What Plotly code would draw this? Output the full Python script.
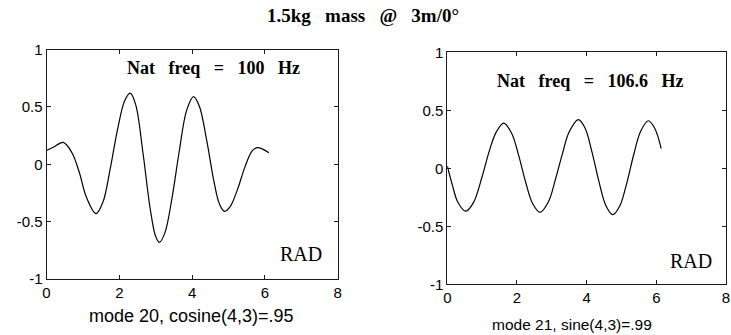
import plotly.graph_objects as go

# ---- data ----
x_left = [0.00, 0.20, 0.46, 0.70, 0.90, 1.10, 1.36, 1.55, 1.75, 1.95, 2.15, 2.30,
          2.45, 2.65, 2.85, 3.00, 3.10, 3.25, 3.45, 3.65, 3.85, 4.04, 4.20, 4.40,
          4.60, 4.75, 4.89, 5.05, 5.25, 5.45, 5.65, 5.79, 5.95, 6.11]
y_left = [0.12, 0.15, 0.19, 0.10, -0.07, -0.29, -0.43, -0.33, -0.04, 0.30, 0.555, 0.62,
          0.52, 0.10, -0.39, -0.63, -0.68, -0.60, -0.29, 0.12, 0.47, 0.59, 0.505, 0.21,
          -0.15, -0.345, -0.41, -0.367, -0.217, -0.025, 0.116, 0.145, 0.13, 0.10]

x_right = [0.00, 0.15, 0.30, 0.53, 0.75, 1.00, 1.20, 1.40, 1.62, 1.85, 2.05, 2.25,
           2.45, 2.66, 2.90, 3.10, 3.30, 3.50, 3.76, 3.95, 4.15, 4.35, 4.55, 4.75,
           4.95, 5.15, 5.35, 5.55, 5.77, 5.95, 6.14]
y_right = [0.02, -0.15, -0.29, -0.37, -0.296, -0.071, 0.144, 0.31, 0.39, 0.30, 0.109, -0.12,
           -0.305, -0.38, -0.29, -0.10, 0.12, 0.315, 0.42, 0.35, 0.144, -0.11, -0.32, -0.40,
           -0.325, -0.13, 0.117, 0.32, 0.41, 0.347, 0.17]

x_ticks = [0, 2, 4, 6, 8]
y_ticks = [-1, -0.5, 0, 0.5, 1]
y_tick_text = ["-1", "-0.5", "0", "0.5", "1"]

SP = "\u00a0\u00a0\u00a0"
title_text = SP.join(["1.5kg", "mass", "@", "3m/0°"])
freq_left = SP.join(["Nat", "freq", "=", "100", "Hz"])
freq_right = SP.join(["Nat", "freq", "=", "106.6", "Hz"])
xtitle_left = "mode 20, cosine(4,3)=.95"
xtitle_right = "mode 21, sine(4,3)=.99"

W, H = 731, 335
LINE = "#1a1a1a"

fig = go.Figure()
fig.add_trace(go.Scatter(x=x_left, y=y_left, mode="lines", line=dict(color="black", width=1.2, shape="spline"),
                         xaxis="x", yaxis="y", showlegend=False))
fig.add_trace(go.Scatter(x=x_right, y=y_right, mode="lines", line=dict(color="black", width=1.2, shape="spline"),
                         xaxis="x2", yaxis="y2", showlegend=False))

tickfont = dict(family="Liberation Sans, Arial, sans-serif", size=15, color="black")
common_x = dict(range=[0, 8], tickvals=x_ticks, ticktext=[str(v) for v in x_ticks], ticks="inside", ticklen=4,
                tickcolor=LINE, showline=True, linecolor=LINE, linewidth=1, mirror="ticks", showgrid=False,
                zeroline=False, tickfont=tickfont, automargin=False, ticklabeloverflow="allow")
common_y = dict(range=[-1, 1], tickvals=y_ticks, ticktext=y_tick_text, ticks="inside", ticklen=4,
                tickcolor=LINE, showline=True, linecolor=LINE, linewidth=1, mirror="ticks", showgrid=False,
                zeroline=False, tickfont=tickfont, automargin=False, ticklabeloverflow="allow")

fig.update_layout(
    width=W, height=H, margin=dict(l=0, r=0, t=0, b=0, autoexpand=False),
    paper_bgcolor="white", plot_bgcolor="white",
    xaxis=dict(domain=[46.5 / W, 337.7 / W], anchor="y", **common_x),
    yaxis=dict(domain=[1 - 279 / H, 1 - 49.5 / H], anchor="x", **common_y),
    xaxis2=dict(domain=[447.3 / W, 726.0 / W], anchor="y2", **common_x),
    yaxis2=dict(domain=[1 - 284.3 / H, 1 - 52.3 / H], anchor="x2", **common_y),
)

serif = "Liberation Serif, Times New Roman, serif"
sans = "Liberation Sans, Arial, sans-serif"
ann = [
    dict(text="<b>" + title_text + "</b>", x=363 / W, y=1 - 15 / H, font=dict(family=serif, size=19)),
    dict(text="<b>" + freq_left + "</b>", x=213 / W, y=1 - 68 / H, font=dict(family=serif, size=18)),
    dict(text="<b>" + freq_right + "</b>", x=590 / W, y=1 - 81 / H, font=dict(family=serif, size=18)),
    dict(text="RAD", x=300.5 / W, y=1 - 254 / H, font=dict(family=serif, size=20)),
    dict(text="RAD", x=691 / W, y=1 - 261 / H, font=dict(family=serif, size=20)),
    dict(text=xtitle_left, x=191 / W, y=1 - 316 / H, font=dict(family=sans, size=18)),
    dict(text=xtitle_right, x=572 / W, y=1 - 324 / H, font=dict(family=sans, size=15.5)),
]
for a in ann:
    a["font"]["color"] = "black"
    fig.add_annotation(xref="paper", yref="paper", showarrow=False, xanchor="center", yanchor="middle", **a)

fig.write_html("out.html", config={"displayModeBar": False},
               post_script="document.body.style.margin='0';document.body.style.overflow='hidden';")
